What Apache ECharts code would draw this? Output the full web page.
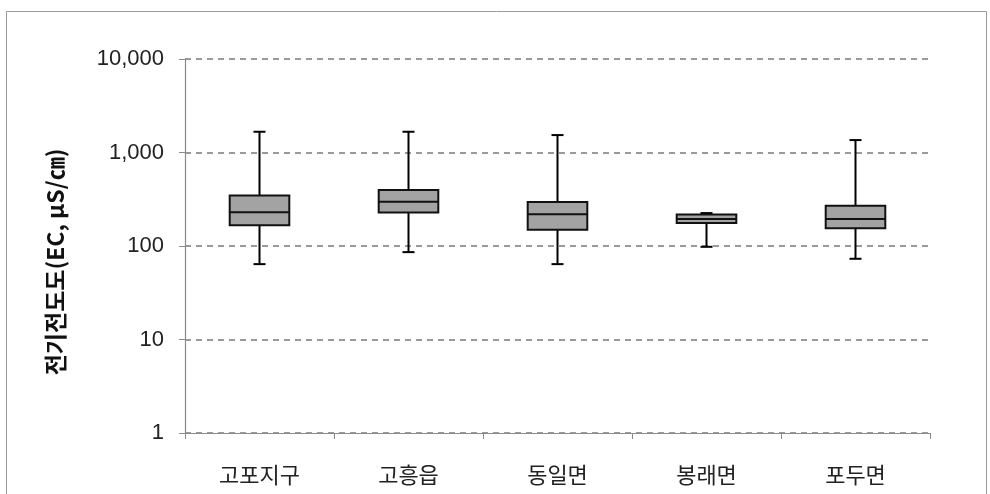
<!DOCTYPE html>
<html><head><meta charset="utf-8">
<script src="https://cdn.jsdelivr.net/npm/echarts@6/dist/echarts.min.js"></script>
<style>html,body{margin:0;padding:0;background:#fff}#c{width:990px;height:494px}</style>
</head><body><div id="c"></div>
<script>
const categories = ['고포지구', '고흥읍', '동일면', '봉래면', '포두면'];
const mins    = [64, 86, 64, 98, 73];
const q1s     = [167, 228, 149, 176, 155];
const medians = [230, 297, 219, 195, 195];
const q3s     = [347, 396, 295, 217, 269];
const maxs    = [1667, 1667, 1536, 225, 1358];
const yTickLabels = ['1', '10', '100', '1,000', '10,000'];
const yTitle = '전기전도도(EC, μS/㎝)';

const data = categories.map((c, i) => [i, mins[i], q1s[i], medians[i], q3s[i], maxs[i]]);

function renderItem(params, api) {
  const idx = api.value(0);
  const pMin = api.coord([idx, api.value(1)]);
  const pQ1 = api.coord([idx, api.value(2)]);
  const pMed = api.coord([idx, api.value(3)]);
  const pQ3 = api.coord([idx, api.value(4)]);
  const pMax = api.coord([idx, api.value(5)]);
  const bw = api.size([1, 0])[0] * 0.4;
  const x = pMed[0];
  const cap = 6;
  const ls = { stroke: '#000', lineWidth: 2 };
  return {
    type: 'group',
    children: [
      { type: 'line', shape: { x1: x, y1: pMax[1], x2: x, y2: pQ3[1] }, style: ls },
      { type: 'line', shape: { x1: x, y1: pQ1[1], x2: x, y2: pMin[1] }, style: ls },
      { type: 'line', shape: { x1: x - cap, y1: pMax[1], x2: x + cap, y2: pMax[1] }, style: ls },
      { type: 'line', shape: { x1: x - cap, y1: pMin[1], x2: x + cap, y2: pMin[1] }, style: ls },
      { type: 'rect', shape: { x: x - bw / 2, y: pQ3[1], width: bw, height: pQ1[1] - pQ3[1] },
        style: { fill: '#a3a3a3', stroke: '#111', lineWidth: 2 } },
      { type: 'line', shape: { x1: x - bw / 2, y1: pMed[1], x2: x + bw / 2, y2: pMed[1] }, style: { stroke: '#111', lineWidth: 2 } }
    ]
  };
}

const chart = echarts.init(document.getElementById('c'), null, { renderer: 'canvas' });
chart.setOption({
  animation: false,
  backgroundColor: '#fff',
  graphic: [
    { type: 'rect', shape: { x: 6.5, y: 11.5, width: 980, height: 500 }, style: { fill: 'none', stroke: '#9a9a9a', lineWidth: 1 }, silent: true },
    { type: 'text', x: 55, y: 262, rotation: Math.PI / 2,
      style: { text: yTitle, fontSize: 23, fontWeight: 'bold', fill: '#111', fontFamily: 'Noto Sans CJK KR', align: 'center', verticalAlign: 'middle' } }
  ],
  grid: { left: 185, right: 60, top: 59, bottom: 61 },
  xAxis: {
    type: 'category',
    data: categories,
    boundaryGap: true,
    axisLine: { lineStyle: { color: '#8a8a8a', width: 1.2 } },
    axisTick: { show: true, interval: 0, length: 6, lineStyle: { color: '#8a8a8a' } },
    axisLabel: { margin: 31, fontSize: 22, color: '#222', fontFamily: 'Noto Sans CJK KR' },
    splitLine: { show: false }
  },
  yAxis: {
    type: 'log',
    logBase: 10,
    min: 1,
    max: 10000,
    axisLine: { show: true, lineStyle: { color: '#8a8a8a', width: 1.2 } },
    axisTick: { show: true, length: 6, inside: false, lineStyle: { color: '#8a8a8a' } },
    axisLabel: {
      margin: 21, fontSize: 22, color: '#222', fontFamily: 'Liberation Sans',
      formatter: function (v) { const i = Math.round(Math.log10(v)); return yTickLabels[i] !== undefined ? yTickLabels[i] : ''; }
    },
    splitLine: { show: true, lineStyle: { color: '#7a7a7a', type: [6, 5], width: 1.5 } }
  },
  series: [{
    type: 'custom',
    renderItem: renderItem,
    encode: { x: 0, y: [1, 2, 3, 4, 5] },
    data: data
  }]
});
</script></body></html>
